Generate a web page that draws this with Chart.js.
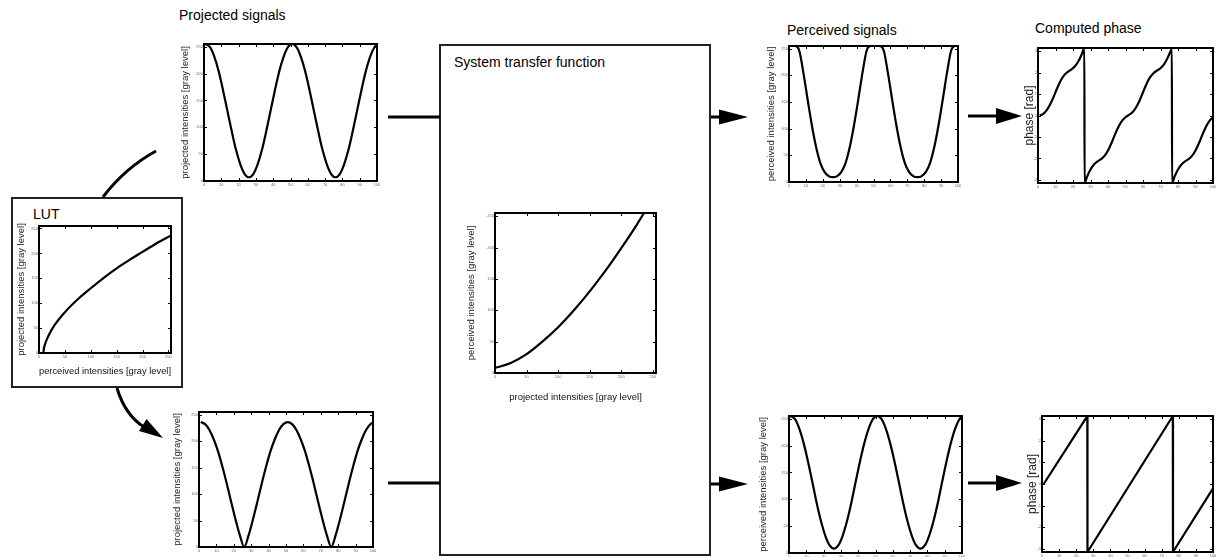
<!DOCTYPE html>
<html>
<head>
<meta charset="utf-8">
<script src="https://cdn.jsdelivr.net/npm/chart.js@4.4.0/dist/chart.umd.min.js"></script>
<style>
  body { margin: 0; background: #fff; width: 1216px; height: 557px; position: relative; overflow: hidden;
         font-family: "Liberation Sans", Arial, sans-serif; }
  .lbl { position: absolute; color: #000; white-space: nowrap; line-height: 1; font-size: 14px; }
  .box { position: absolute; border: 2px solid #222; box-sizing: border-box; }
  canvas { position: absolute; }
  svg { position: absolute; left: 0; top: 0; }
</style>
</head>
<body>
<div class="box" style="left:11px;top:197px;width:172px;height:191px"></div>
<div class="box" style="left:439px;top:44px;width:272px;height:512px"></div>

<div class="lbl" style="left:179px;top:8px">Projected signals</div>
<div class="lbl" style="left:33px;top:207px">LUT</div>
<div class="lbl" style="left:454px;top:55px">System transfer function</div>
<div class="lbl" style="left:787px;top:23px">Perceived signals</div>
<div class="lbl" style="left:1035px;top:21px">Computed phase</div>

<svg width="1216" height="557">
  <g stroke="#000" stroke-width="3" fill="none">
    <line x1="388" y1="117" x2="440" y2="117"/>
    <line x1="388" y1="483" x2="440" y2="483"/>
    <line x1="711" y1="117" x2="722" y2="117"/>
    <line x1="711" y1="484" x2="722" y2="484"/>
    <line x1="968" y1="116" x2="1000" y2="116"/>
    <line x1="968" y1="483" x2="1000" y2="483"/>
    <path d="M103,197 Q125,168 156,151"/>
    <path d="M117,388 Q125,415 144,427"/>
  </g>
  <g fill="#000">
    <polygon points="719,109.5 748,117 719,124.5"/>
    <polygon points="719,476.5 748,484 719,491.5"/>
    <polygon points="996,108 1022,116 996,124"/>
    <polygon points="996,475 1022,483 996,491"/>
    <polygon points="139,431 146.6,419 163,438"/>
  </g>
</svg>

<script>
// sample positions along the fringe (pixel index)
const timeX = [1, 3.5, 6, 8.5, 11, 13.5, 16, 18.5, 21, 23.5, 26, 28.5, 31, 33.5, 36, 38.5, 41, 43.5, 46, 48.5,
               51, 53.5, 56, 58.5, 61, 63.5, 66, 68.5, 71, 73.5, 76, 78.5, 81, 83.5, 86, 88.5, 91, 93.5, 96, 98.5, 100];

const projectedTop = [255, 249, 231, 204, 169, 131, 93, 58, 31, 13, 7, 13, 31, 58, 93, 131, 169, 204, 231, 249,
                      255, 249, 231, 204, 169, 131, 93, 58, 31, 13, 7, 13, 31, 58, 93, 131, 169, 204, 231, 249, 254];
const projectedBottom = [236, 232, 221, 203, 180, 151, 119, 85, 52, 22, 0, 22, 52, 85, 119, 151, 180, 203, 221, 232,
                         236, 232, 221, 203, 180, 151, 119, 85, 52, 22, 0, 22, 52, 85, 119, 151, 180, 203, 221, 232, 235];
const perceivedTop = [255, 255, 247, 205, 155, 107, 66, 36, 19, 11, 9, 11, 19, 36, 66, 107, 155, 205, 247, 255,
                      255, 255, 247, 205, 155, 107, 66, 36, 19, 11, 9, 11, 19, 36, 66, 107, 155, 205, 247, 255, 255];
const perceivedBottom = [255, 249, 231, 204, 170, 132, 93, 59, 32, 14, 8, 14, 32, 59, 93, 132, 170, 204, 231, 249,
                         255, 249, 231, 204, 170, 132, 93, 59, 32, 14, 8, 14, 32, 59, 93, 132, 170, 204, 231, 249, 254];

const phaseTopX = [1, 3, 5, 7, 9, 11, 13, 15, 17, 19, 21, 23, 25, 26.5, 26.6,
                   28, 30, 32, 34, 36, 38, 40, 42, 44, 46, 48, 50,
                   52, 54, 56, 58, 60, 62, 64, 66, 68, 70, 72, 74, 76, 76.5, 76.6,
                   78, 80, 82, 84, 86, 88, 90, 92, 94, 96, 98, 100];
const phaseTopY = [0, 0.08, 0.25, 0.52, 0.88, 1.28, 1.63, 1.88, 2.03, 2.14, 2.28, 2.51, 2.85, 3.14, -3.14,
                   -2.85, -2.51, -2.28, -2.14, -2.03, -1.88, -1.63, -1.28, -0.88, -0.52, -0.25, -0.08,
                   0.03, 0.15, 0.37, 0.69, 1.08, 1.47, 1.77, 1.97, 2.09, 2.2, 2.38, 2.67, 3.04, 3.14, -3.14,
                   -2.85, -2.51, -2.28, -2.14, -2.03, -1.88, -1.63, -1.28, -0.88, -0.52, -0.25, -0.08];
const phaseBottomX = [1, 26.5, 26.6, 76.5, 76.6, 100];
const phaseBottomY = [0, 3.14, -3.14, 3.14, -3.14, -0.2];

// LUT: perceived -> projected
const lutX = [0, 8, 10, 20, 30, 50, 75, 100, 125, 150, 175, 200, 225, 255];
const lutY = [0, 0, 12, 38, 56, 82, 108, 130, 151, 170, 187, 203, 219, 236];
// system transfer: projected -> perceived
const sysX = [0, 25, 50, 75, 100, 125, 150, 175, 200, 225, 236];
const sysY = [8, 16, 30, 50, 73, 100, 130, 163, 199, 237, 255];

const timeTicks = [0, 10, 20, 30, 40, 50, 60, 70, 80, 90, 100];
const grayTicks = [0, 50, 100, 150, 200, 250];
const phaseTicks = [-3, -2, -1, 0, 1, 2, 3];

const projLabel = 'projected intensities [gray level]';
const percLabel = 'perceived intensities [gray level]';

// box + inward tick marks, matlab style
const frame = {
  id: 'frame',
  afterDraw(chart) {
    const { ctx, chartArea: a, scales: { x, y } } = chart;
    ctx.save();
    ctx.strokeStyle = '#000';
    ctx.lineWidth = 1;
    ctx.beginPath();
    x.ticks.forEach(t => {
      const p = Math.round(x.getPixelForValue(t.value)) + 0.5;
      ctx.moveTo(p, a.bottom); ctx.lineTo(p, a.bottom - 3);
      ctx.moveTo(p, a.top); ctx.lineTo(p, a.top + 3);
    });
    y.ticks.forEach(t => {
      const p = Math.round(y.getPixelForValue(t.value)) + 0.5;
      ctx.moveTo(a.left, p); ctx.lineTo(a.left + 3, p);
      ctx.moveTo(a.right, p); ctx.lineTo(a.right - 3, p);
    });
    ctx.stroke();
    ctx.lineWidth = 2;
    ctx.strokeRect(a.left, a.top, a.right - a.left, a.bottom - a.top);
    ctx.restore();
  }
};

function plot(s) {
  const yf = s.yf || 9.5, xf = 9.5;
  const L = Math.round(s.ylx - 0.6 * yf);
  const T = s.t - 3, R = s.r + 3;
  const B = s.xly ? Math.round(s.xly + 0.6 * xf) : s.b + 8;
  const yW = s.l - L, xH = B - s.b;

  const cv = document.createElement('canvas');
  cv.width = R - L; cv.height = B - T;
  cv.style.left = L + 'px'; cv.style.top = T + 'px';
  document.body.appendChild(cv);

  const tickFont = { size: 4, family: 'Liberation Sans, Arial, sans-serif' };

  new Chart(cv, {
    type: 'line',
    data: {
      datasets: [{
        data: s.xs.map((x, i) => ({ x: x, y: s.ys[i] })),
        borderColor: '#000',
        borderWidth: 2.2,
        pointRadius: 0,
        fill: false,
        cubicInterpolationMode: s.straight ? 'default' : 'monotone',
        tension: 0
      }]
    },
    options: {
      responsive: false,
      animation: false,
      events: [],
      layout: { padding: { top: 3, right: 3, left: 0, bottom: 0 } },
      plugins: { legend: { display: false }, tooltip: { enabled: false } },
      scales: {
        x: {
          type: 'linear', min: s.xmin, max: s.xmax,
          afterBuildTicks: sc => { sc.ticks = s.xt.map(v => ({ value: v })); },
          afterFit: sc => { sc.height = xH; sc.paddingLeft = 0; sc.paddingRight = 0; },
          ticks: { font: tickFont, color: '#666', padding: 1, maxRotation: 0, autoSkip: false },
          grid: { display: false, drawTicks: false },
          border: { display: false },
          title: {
            display: !!s.xTitle, text: s.xTitle || '', padding: 0, color: '#111',
            font: { size: xf, family: 'Liberation Sans, Arial, sans-serif' }
          }
        },
        y: {
          type: 'linear', min: s.ymin, max: s.ymax,
          afterBuildTicks: sc => { sc.ticks = s.yt.map(v => ({ value: v })); },
          afterFit: sc => { sc.width = yW; sc.paddingTop = 0; sc.paddingBottom = 0; },
          ticks: { font: tickFont, color: '#666', padding: 1, autoSkip: false },
          grid: { display: false, drawTicks: false },
          border: { display: false },
          title: {
            display: true, text: s.yTitle, padding: 0, color: '#222',
            font: { size: yf, family: 'Liberation Sans, Arial, sans-serif' }
          }
        }
      }
    },
    plugins: [frame]
  });
}

const sigOpts = { xmin: 0, xmax: 100, ymin: 0, ymax: 255, xt: timeTicks, yt: grayTicks };
const phOpts = { xmin: 0, xmax: 100, ymin: -Math.PI, ymax: Math.PI, xt: timeTicks, yt: phaseTicks, yf: 12, yTitle: 'phase [rad]' };

plot(Object.assign({}, sigOpts, { l: 204, t: 44, r: 377, b: 181, ylx: 186, xs: timeX, ys: projectedTop, yTitle: projLabel }));
plot(Object.assign({}, sigOpts, { l: 199, t: 412, r: 373, b: 547, ylx: 178, xs: timeX, ys: projectedBottom, yTitle: projLabel }));
plot(Object.assign({}, sigOpts, { l: 789, t: 46, r: 958, b: 182, ylx: 772, xs: timeX, ys: perceivedTop, yTitle: percLabel }));
plot(Object.assign({}, sigOpts, { l: 789, t: 416, r: 962, b: 553, ylx: 764, xs: timeX, ys: perceivedBottom, yTitle: percLabel }));

plot({ xmin: 0, xmax: 255, ymin: 0, ymax: 255, xt: grayTicks, yt: grayTicks,
       l: 39, t: 226, r: 171, b: 353, ylx: 22, xly: 371, xs: lutX, ys: lutY, yTitle: projLabel, xTitle: percLabel });
plot({ xmin: 0, xmax: 255, ymin: 0, ymax: 255, xt: grayTicks, yt: grayTicks,
       l: 495, t: 213, r: 656, b: 373, ylx: 472, xly: 397, xs: sysX, ys: sysY, yTitle: percLabel, xTitle: projLabel });

plot(Object.assign({}, phOpts, { l: 1038, t: 48, r: 1213, b: 183, ylx: 1029, xs: phaseTopX, ys: phaseTopY }));
plot(Object.assign({}, phOpts, { l: 1042, t: 416, r: 1213, b: 552, ylx: 1032, xs: phaseBottomX, ys: phaseBottomY, straight: true }));
</script>
</body>
</html>
